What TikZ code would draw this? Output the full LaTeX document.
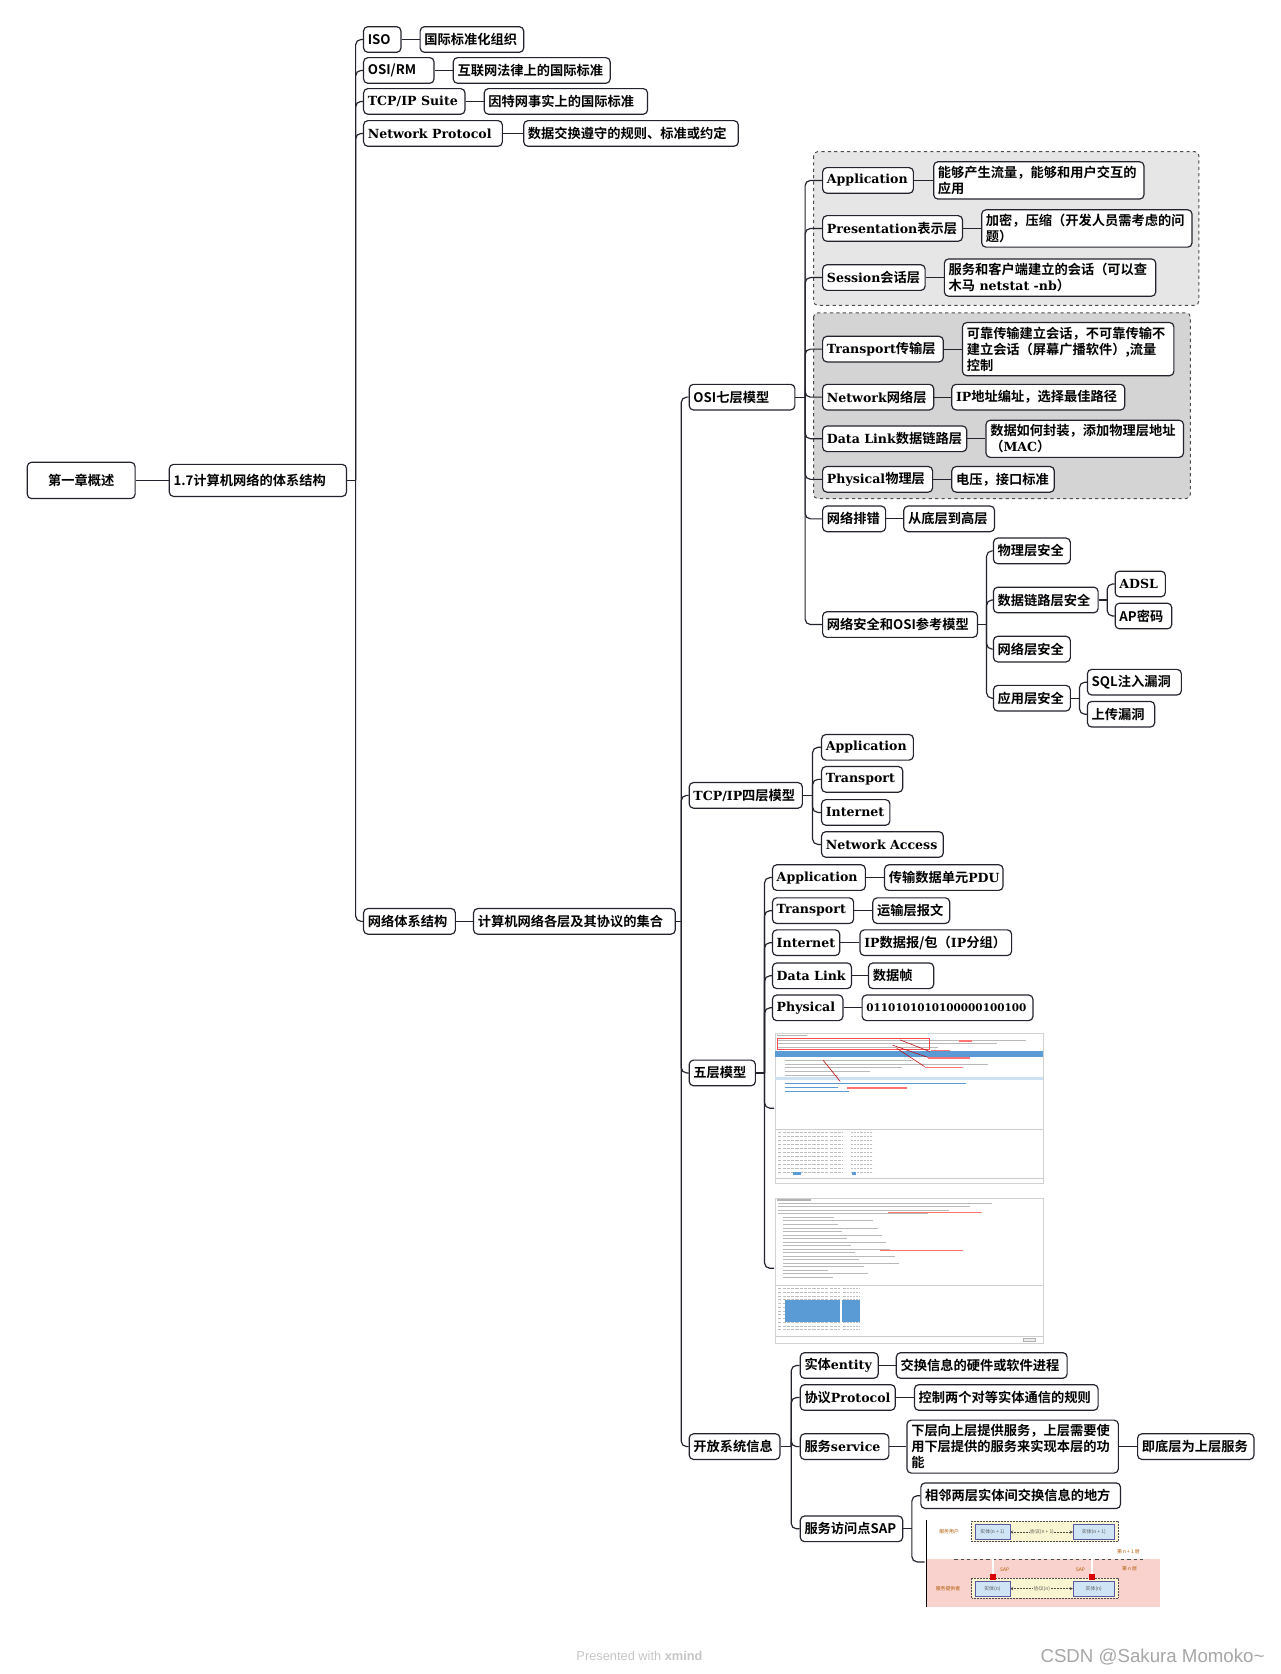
\documentclass[tikz,border=0pt]{standalone}
\usepackage{fontspec}
\setmainfont{Noto Sans CJK SC}[BoldFont={* Bold}]
\newfontfamily\slab{DejaVu Serif}[Scale=0.95, UprightFont={* Bold}, BoldFont={* Bold}]
\newfontfamily\wmfont{Liberation Sans}

\definecolor{linec}{HTML}{23232E}
\definecolor{grpA}{HTML}{E6E6E6}
\definecolor{grpB}{HTML}{D4D4D4}
\definecolor{shotblue}{HTML}{5B9BD5}
\definecolor{sappink}{HTML}{F9D2CE}
\definecolor{sapyel}{HTML}{FBF6D2}
\definecolor{sapblue}{HTML}{CFE4F5}

\begin{document}
\begin{tikzpicture}[x=1pt,y=-1pt,
    topic/.style={draw=linec, line width=1.1pt, rounded corners=4pt, fill=white,
      anchor=west, inner xsep=4pt, inner ysep=4pt, minimum height=24pt, align=left,
      font=\fontsize{12.4}{15}\selectfont\bfseries},
    link/.style={draw=linec, line width=1.1pt, rounded corners=5pt},
    layer/.style={draw=gray!60!black, dashed, line width=0.9pt, rounded corners=4pt},
    txtline/.style={gray!55, line width=0.6pt},
    redline/.style={red!75!black, line width=0.5pt},
    tinytext/.style={font=\fontsize{4.6}{5}\selectfont, inner sep=0.5pt}]
    \useasboundingbox (0,0) rectangle (1199,1568);

    % the two dashed layer groups of the OSI model
    \draw[layer, fill=grpA] (762,142) rectangle (1123,286);
    \draw[layer, fill=grpB] (762,293) rectangle (1115,467);

    % root and first level
    \node[topic, text width=93pt, align=center, minimum height=34pt] (root) at (25,450) {第一章概述};
    \node[topic, text width=158pt, minimum height=30pt] (arch17) at (158,450) {1.7计算机网络的体系结构};

    \node[topic, text width=27pt] (iso) at (340,37) {ISO};
    \node[topic, text width=58pt] (osirm) at (340,66) {OSI/RM};
    \node[topic, text width=87pt] (tcpsuite) at (340,95) {{\slab TCP/IP Suite}};
    \node[topic, text width=122pt] (netproto) at (340,125) {{\slab Network Protocol}};
    \node[topic, text width=78pt] (arch) at (340,863) {网络体系结构};

    \node[topic, text width=89pt] (isod) at (393,37) {国际标准化组织};
    \node[topic, text width=139pt] (osirmd) at (424,66) {互联网法律上的国际标准};
    \node[topic, text width=145pt] (tcpsuited) at (453,95) {因特网事实上的国际标准};
    \node[topic, text width=193pt] (netprotod) at (490,125) {数据交换遵守的规则、标准或约定};
    \node[topic, text width=181pt] (archd) at (443,863) {计算机网络各层及其协议的集合};

    % models
    \node[topic, text width=91pt] (osi) at (645,372) {OSI七层模型};
    \node[topic, text width=98pt] (tcpip) at (645,745) {{\slab TCP/IP}四层模型};
    \node[topic, text width=54pt] (five) at (645,1005) {五层模型};
    \node[topic, text width=77pt] (open) at (645,1355) {开放系统信息};

    % OSI seven layers
    \node[topic, text width=77pt] (oapp) at (770,169) {{\slab Application}};
    \node[topic, text width=123pt] (opre) at (770,214) {{\slab Presentation}表示层};
    \node[topic, text width=88pt] (oses) at (770,260) {{\slab Session}会话层};
    \node[topic, text width=105pt] (otra) at (770,327) {{\slab Transport}传输层};
    \node[topic, text width=96pt] (onet) at (770,372) {{\slab Network}网络层};
    \node[topic, text width=127pt] (odl) at (770,411) {{\slab Data~Link}数据链路层};
    \node[topic, text width=95pt] (ophy) at (770,449) {{\slab Physical}物理层};
    \node[topic, text width=51pt] (otrb) at (770,486) {网络排错};
    \node[topic, text width=137pt] (osec) at (770,585) {网络安全和OSI参考模型};

    \node[topic, text width=189pt] (oappd) at (874,169) {能够产生流量，能够和用户交互的\\应用};
    \node[topic, text width=189pt] (opred) at (919,214) {加密，压缩（开发人员需考虑的问\\题）};
    \node[topic, text width=190pt] (osesd) at (884,260) {服务和客户端建立的会话（可以查\\木马{\slab\ netstat -nb}）};
    \node[topic, text width=190pt] (otrad) at (901,327) {可靠传输建立会话，不可靠传输不\\建立会话（屏幕广播软件）,流量\\控制};
    \node[topic, text width=154pt] (onetd) at (891,372) {{\slab IP}地址编址，选择最佳路径};
    \node[topic, text width=177pt] (odld) at (923,411) {数据如何封装，添加物理层地址\\（{\slab MAC}）};
    \node[topic, text width=88pt] (ophyd) at (891,449) {电压，接口标准};
    \node[topic, text width=77pt] (otrbd) at (846,486) {从底层到高层};

    \node[topic, text width=64pt] (sphy) at (930,516) {物理层安全};
    \node[topic, text width=90pt] (sdl) at (930,562) {数据链路层安全};
    \node[topic, text width=64pt] (snet) at (930,608) {网络层安全};
    \node[topic, text width=64pt] (sapp) at (930,654) {应用层安全};
    \node[topic, text width=39pt] (adsl) at (1044,547) {{\slab ADSL}};
    \node[topic, text width=45pt] (appw) at (1044,577) {AP密码};
    \node[topic, text width=80pt] (sqli) at (1018,639) {SQL注入漏洞};
    \node[topic, text width=55pt] (upld) at (1018,669) {上传漏洞};

    % TCP/IP four layers
    \node[topic, text width=78pt] (tapp) at (769,700) {{\slab Application}};
    \node[topic, text width=68pt] (ttra) at (769,730) {{\slab Transport}};
    \node[topic, text width=56pt] (tint) at (769,761) {{\slab Internet}};
    \node[topic, text width=106pt] (tacc) at (769,791) {{\slab Network Access}};

    % five layers
    \node[topic, text width=79pt] (fapp) at (723,822) {{\slab Application}};
    \node[topic, text width=68pt] (ftra) at (723,853) {{\slab Transport}};
    \node[topic, text width=55pt] (fint) at (723,883) {{\slab Internet}};
    \node[topic, text width=66pt] (fdl) at (723,914) {{\slab Data~Link}};
    \node[topic, text width=58pt] (fphy) at (723,944) {{\slab Physical}};
    \node[topic, text width=103pt] (fappd) at (828,822) {传输数据单元{\slab PDU}};
    \node[topic, text width=64pt] (ftrad) at (817,853) {运输层报文};
    \node[topic, text width=134pt] (fintd) at (805,883) {{\slab IP}数据报/包（{\slab IP}分组）};
    \node[topic, text width=53pt] (fdld) at (813,914) {数据帧};
    \node[topic, text width=152pt] (fphyd) at (807,944) {{\slab\fontsize{10.3}{15}\selectfont 0110101010100000100100}};
    \coordinate (shotA) at (725,1038);
    \coordinate (shotB) at (725,1188);

    % open system
    \node[topic, text width=65pt] (oent) at (749,1279) {实体{\slab entity}};
    \node[topic, text width=81pt] (oprot) at (749,1309) {协议{\slab Protocol}};
    \node[topic, text width=75pt] (oserv) at (749,1355) {服务{\slab service}};
    \node[topic, text width=88pt] (osap) at (749,1432) {服务访问点SAP};
    \node[topic, text width=152pt] (oentd) at (839,1279) {交换信息的硬件或软件进程};
    \node[topic, text width=164pt] (oprotd) at (856,1309) {控制两个对等实体通信的规则};
    \node[topic, text width=190pt] (oservd) at (849,1355) {下层向上层提供服务，上层需要使\\用下层提供的服务来实现本层的功\\能};
    \node[topic, text width=101pt] (oservdd) at (1065,1355) {即底层为上层服务};
    \node[topic, text width=179pt] (osapd) at (862,1401) {相邻两层实体间交换信息的地方};
    \coordinate (sapimg) at (866,1463);

    % junction points on the trunks
    \path (arch17.east) ++(8,0) coordinate (arch17j);
    \path (archd.east) ++(5,0) coordinate (archdj);
    \path (osi.east) ++(9,0) coordinate (osij);
    \path (osec.east) ++(8,0) coordinate (osecj);
    \path (sdl.east) ++(8,0) coordinate (sdlj);
    \path (sapp.east) ++(8,0) coordinate (sappj);
    \path (tcpip.east) ++(9,0) coordinate (tcpipj);
    \path (five.east) ++(8,0) coordinate (fivej);
    \path (open.east) ++(10,0) coordinate (openj);
    \path (osap.east) ++(8,0) coordinate (osapj);

    % connectors
    \draw[link] (root) -- (arch17);
    \foreach \p in {arch17,archd,osi,osec,sdl,sapp,tcpip,five,open,osap}
      \draw[link] (\p.east) -- (\p j);
    \foreach \c in {iso,osirm,tcpsuite,netproto,arch}
      \draw[link] (arch17j) |- (\c.west);
    \foreach \a/\b in {iso/isod,osirm/osirmd,tcpsuite/tcpsuited,netproto/netprotod,arch/archd}
      \draw[link] (\a) -- (\b);
    \foreach \c in {osi,tcpip,five,open}
      \draw[link] (archdj) |- (\c.west);
    \foreach \c in {oapp,opre,oses,otra,onet,odl,ophy,otrb,osec}
      \draw[link] (osij) |- (\c.west);
    \foreach \a/\b in {oapp/oappd,opre/opred,oses/osesd,otra/otrad,onet/onetd,odl/odld,ophy/ophyd,otrb/otrbd}
      \draw[link] (\a) -- (\b);
    \foreach \c in {sphy,sdl,snet,sapp}
      \draw[link] (osecj) |- (\c.west);
    \foreach \c in {adsl,appw}
      \draw[link] (sdlj) |- (\c.west);
    \foreach \c in {sqli,upld}
      \draw[link] (sappj) |- (\c.west);
    \foreach \c in {tapp,ttra,tint,tacc}
      \draw[link] (tcpipj) |- (\c.west);
    \foreach \c in {fapp,ftra,fint,fdl,fphy,shotA,shotB}
      \draw[link] (fivej) |- (\c);
    \foreach \a/\b in {fapp/fappd,ftra/ftrad,fint/fintd,fdl/fdld,fphy/fphyd}
      \draw[link] (\a) -- (\b);
    \foreach \c in {oent,oprot,oserv,osap}
      \draw[link] (openj) |- (\c.west);
    \foreach \a/\b in {oent/oentd,oprot/oprotd,oserv/oservd,oservd/oservdd}
      \draw[link] (\a) -- (\b);
    \foreach \c in {osapd,sapimg}
      \draw[link] (osapj) |- (\c);

    % screenshot 1 (packet capture)
    \draw[gray!35, fill=white] (726,968) rectangle (977,1108);
    \fill[gray!60] (728,969.5) rectangle (756,970.5);
    \foreach \y/\l in {974/232,977.5/205,981/150}
      \draw[txtline] (729,\y) -- ++(\l,0);
    \draw[red!70, line width=0.4pt] (728,972) rectangle (870,983);
    \fill[shotblue] (726,984) rectangle (977,990);
    \foreach \y/\l in {993/120,996.5/190,1000/110,1003.5/80,1007/50}
      \draw[txtline] (735,\y) -- ++(\l,0);
    \fill[shotblue!30] (726,1009) rectangle (977,1012);
    \foreach \y/\l in {1015/170,1018.5/50,1022/60}
      \draw[shotblue, line width=0.5pt] (735,\y) -- ++(\l,0);
    \draw[redline] (843,974) -- (871,985);
    \draw[redline] (836,979) -- (871,991);
    \draw[redline] (840,982) -- (866,999);
    \draw[redline] (771,993) -- (787,1013);
    \foreach \x/\y/\l in {898/975/12,872/984/18,869/991/40,866/1000/36,793/1019/57}
      \draw[red!55, line width=1.2pt] (\x,\y) -- ++(\l,0);
    \draw[gray!40] (726,1058) -- (977,1058);
    \foreach \i in {0,...,10} {
      \draw[gray!50, line width=0.8pt, dash pattern=on 3pt off 1pt] (729,1061+3.7*\i) -- (790,1061+3.7*\i);
      \draw[gray!50, line width=0.8pt, dash pattern=on 2pt off 1pt] (797,1061+3.7*\i) -- (818,1061+3.7*\i);
    }
    \fill[shotblue] (743,1098) rectangle (750,1101);
    \fill[shotblue] (798,1098) rectangle (802,1101);
    \draw[gray!40] (726,1104) -- (977,1104);

    % screenshot 2 (packet capture)
    \draw[gray!35, fill=white] (726,1122) rectangle (977,1258);
    \fill[gray!60] (728,1123.5) rectangle (760,1124.5);
    \foreach \i in {0,...,3}
      \draw[txtline] (729,1127+3.3*\i) -- ++(200-20*\i,0);
    \foreach \i in {4,...,21}
      \draw[txtline] (733,1127+3.3*\i) -- ++({40+mod(37*\i,70)},0);
    \draw[red!55, line width=1.2pt] (832,1136) -- (920,1136);
    \draw[red!55, line width=1.2pt] (824,1171) -- (902,1171);
    \draw[gray!40] (726,1204) -- (977,1204);
    \foreach \i in {0,...,11} {
      \draw[gray!50, line width=0.8pt, dash pattern=on 3pt off 1pt] (729,1207+3.5*\i) -- (787,1207+3.5*\i);
      \draw[gray!50, line width=0.8pt, dash pattern=on 2pt off 1pt] (790,1207+3.5*\i) -- (806,1207+3.5*\i);
    }
    \fill[shotblue] (735,1218) rectangle (787,1238);
    \fill[shotblue] (789,1218) rectangle (806,1238);
    \draw[gray!40] (726,1252) -- (977,1252);
    \draw[gray!60, fill=gray!15] (958,1253) rectangle (970,1256);

    % SAP picture
    \fill[white] (868,1424) rectangle (1087,1505);
    \fill[sappink] (868,1460) rectangle (1087,1505);
    \draw[line width=1.4pt] (868,1424) -- (868,1505);
    \draw[dashed, gray!60!black, line width=0.4pt] (894,1460) -- (1074,1460);
    \draw[densely dotted, fill=sapyel, draw=black!70] (910,1425) rectangle (1047,1444);
    \draw[densely dotted, fill=sapyel, draw=black!70] (910,1478) rectangle (1047,1497);
    \draw[densely dotted, black!70, <->, >=stealth] (946,1435) -- (1005,1435);
    \draw[densely dotted, black!70, <->, >=stealth] (946,1488) -- (1005,1488);
    \draw[fill=sapblue, draw=gray!70!blue] (913,1428) rectangle (946,1442);
    \draw[fill=sapblue, draw=gray!70!blue] (1005,1428) rectangle (1044,1442);
    \draw[fill=sapblue, draw=gray!70!blue] (913,1481) rectangle (946,1495);
    \draw[fill=sapblue, draw=gray!70!blue] (1005,1481) rectangle (1044,1495);
    \draw[double=white, draw=gray!70!black, line width=0.4pt, double distance=1.4pt] (930,1444) -- (930,1474);
    \draw[double=white, draw=gray!70!black, line width=0.4pt, double distance=1.4pt] (1023,1444) -- (1023,1474);
    \fill[red!85!black] (927,1474) rectangle (933,1480);
    \fill[red!85!black] (1020,1474) rectangle (1026,1480);
    \node[tinytext, text=orange!70!black] at (889,1435) {服务用户};
    \node[tinytext, text=orange!70!black] at (888,1488) {服务提供者};
    \node[tinytext, text=gray!70!black] at (929.5,1435) {实体(n + 1)};
    \node[tinytext, text=gray!70!black] at (1024.5,1435) {实体(n + 1)};
    \node[tinytext, text=gray!70!black] at (929.5,1488) {实体(n)};
    \node[tinytext, text=gray!70!black] at (1024.5,1488) {实体(n)};
    \node[tinytext, fill=sapyel, text=gray!70!black] at (976,1435) {协议(n + 1)};
    \node[tinytext, fill=sapyel, text=gray!70!black] at (976,1488) {协议(n)};
    \node[tinytext, text=orange!70!black] at (1057,1453) {第 n + 1 层};
    \node[tinytext, text=orange!70!black] at (1058,1469) {第 n 层};
    \node[tinytext, text=orange!70!black] at (941,1470) {SAP};
    \node[tinytext, text=orange!70!black] at (1012,1470) {SAP};

    % watermarks
    \node[text=gray!45, font=\wmfont\fontsize{12}{13}\selectfont] (xmind) at (599,1551) {Presented with \textbf{xmind}};
    \node[text=gray!70, anchor=east, font=\wmfont\fontsize{17.5}{19}\selectfont] (csdn) at (1188,1552) {CSDN @Sakura Momoko\textasciitilde};
\end{tikzpicture}
\end{document}
